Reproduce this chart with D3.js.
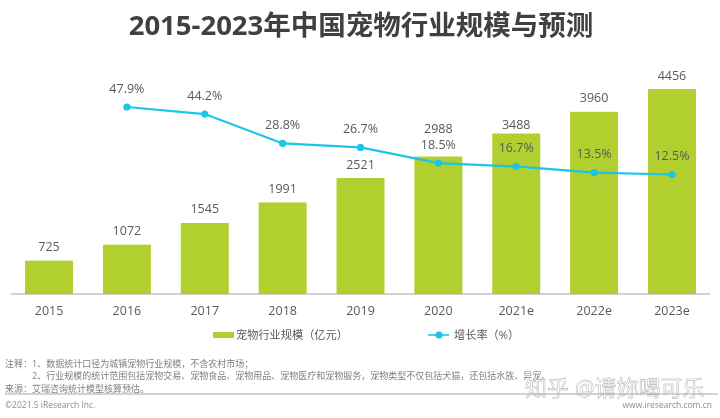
<!DOCTYPE html>
<html>
<head>
<meta charset="utf-8">
<script src="https://cdn.jsdelivr.net/npm/d3@7"></script>
<style>
    html, body { margin: 0; padding: 0; background: #fff; }
    svg { display: block; filter: blur(0.35px); }
    text { font-family: "Open Sans", "Noto Sans CJK SC", sans-serif; }
</style>
</head>
<body>
<div id="chart"></div>
<script>
var categories = ["2015", "2016", "2017", "2018", "2019", "2020", "2021e", "2022e", "2023e"];
var scaleValues = [725, 1072, 1545, 1991, 2521, 2988, 3488, 3960, 4456];
var rateCategories = ["2016", "2017", "2018", "2019", "2020", "2021e", "2022e", "2023e"];
var rateValues = [47.9, 44.2, 28.8, 26.7, 18.5, 16.7, 13.5, 12.5];
var noteLines = [
    "注释：1、数据统计口径为城镇宠物行业规模，不含农村市场；",
    "　　　2、行业规模的统计范围包括宠物交易、宠物食品、宠物用品、宠物医疗和宠物服务，宠物类型不仅包括犬猫，还包括水族、异宠。",
    "来源：艾瑞咨询统计模型核算预估。"
];

var width = 720, height = 418;
var baseY = 294;
var textColor = "#595959";
var barColor = "#b1d02f";
var lineColor = "#1cc4e8";

var svg = d3.select("#chart").append("svg")
    .attr("width", width)
    .attr("height", height);

var x = d3.scaleBand()
    .domain(categories)
    .range([10.1, 710.9])
    .paddingInner(0.384)
    .paddingOuter(0.192);

var y = d3.scaleLinear().domain([0, 4456]).range([baseY, 89]);
var yRate = d3.scaleLinear().domain([0, 50]).range([198.3, 103]);

// the bar label has to dodge the rate label on these two
function barLabelGap(d) {
    if (d === "2020") return 24;
    if (d === "2021e") return 5;
    return 9.5;
}

// title
svg.append("text")
    .attr("x", 361)
    .attr("y", 35)
    .attr("text-anchor", "middle")
    .attr("font-size", 27.5)
    .attr("font-weight", 700)
    .attr("fill", "#404040")
    .text("2015-2023年中国宠物行业规模与预测");

// bars
svg.selectAll(".bar")
    .data(categories)
    .enter().append("rect")
    .attr("class", "bar")
    .attr("x", function (d) { return x(d); })
    .attr("y", function (d, i) { return y(scaleValues[i]); })
    .attr("width", x.bandwidth())
    .attr("height", function (d, i) { return baseY - y(scaleValues[i]); })
    .attr("fill", barColor);

svg.selectAll(".bar-label")
    .data(categories)
    .enter().append("text")
    .attr("class", "bar-label")
    .attr("x", function (d) { return x(d) + x.bandwidth() / 2; })
    .attr("y", function (d, i) { return y(scaleValues[i]) - barLabelGap(d); })
    .attr("text-anchor", "middle")
    .attr("font-size", 12.5)
    .attr("fill", textColor)
    .text(function (d, i) { return scaleValues[i]; });

// x axis
var xAxis = svg.append("g")
    .attr("transform", "translate(0," + baseY + ")")
    .call(d3.axisBottom(x).tickSize(0).tickPadding(12));
xAxis.select(".domain").remove();
xAxis.selectAll("text")
    .attr("font-size", 12.5)
    .attr("fill", textColor)
    .style("font-family", '"Open Sans", sans-serif');
svg.append("line")
    .attr("x1", 11).attr("x2", 710)
    .attr("y1", baseY).attr("y2", baseY)
    .attr("stroke", "#a6a6a6")
    .attr("stroke-width", 1.2);

// rate line
var line = d3.line()
    .x(function (d) { return x(d) + x.bandwidth() / 2; })
    .y(function (d, i) { return yRate(rateValues[i]); });

svg.append("path")
    .datum(rateCategories)
    .attr("d", line)
    .attr("fill", "none")
    .attr("stroke", lineColor)
    .attr("stroke-width", 2.2);

svg.selectAll(".dot")
    .data(rateCategories)
    .enter().append("circle")
    .attr("class", "dot")
    .attr("cx", function (d) { return x(d) + x.bandwidth() / 2; })
    .attr("cy", function (d, i) { return yRate(rateValues[i]); })
    .attr("r", 3.6)
    .attr("fill", lineColor);

svg.selectAll(".rate-label")
    .data(rateCategories)
    .enter().append("text")
    .attr("class", "rate-label")
    .attr("x", function (d) { return x(d) + x.bandwidth() / 2; })
    .attr("y", function (d, i) { return yRate(rateValues[i]) - 14.5; })
    .attr("text-anchor", "middle")
    .attr("font-size", 12.5)
    .attr("fill", textColor)
    .text(function (d, i) { return rateValues[i].toFixed(1) + "%"; });

// legend
svg.append("rect")
    .attr("x", 213).attr("y", 332)
    .attr("width", 21).attr("height", 6)
    .attr("fill", barColor);
svg.append("text")
    .attr("x", 236).attr("y", 339)
    .attr("font-size", 11.2)
    .attr("fill", textColor)
    .text("宠物行业规模（亿元）");
svg.append("line")
    .attr("x1", 428).attr("x2", 449)
    .attr("y1", 335).attr("y2", 335)
    .attr("stroke", lineColor)
    .attr("stroke-width", 1.6);
svg.append("circle")
    .attr("cx", 439).attr("cy", 335)
    .attr("r", 3.6)
    .attr("fill", lineColor);
svg.append("text")
    .attr("x", 454).attr("y", 339)
    .attr("font-size", 11.2)
    .attr("fill", textColor)
    .text("增长率（%）");

// notes
svg.selectAll(".note")
    .data(noteLines)
    .enter().append("text")
    .attr("class", "note")
    .attr("x", 5)
    .attr("y", function (d, i) { return 366.5 + i * 12.5; })
    .attr("font-size", 9)
    .attr("fill", "#7f7f7f")
    .text(function (d) { return d; });

// watermark sits under the footer rule
svg.append("text")
    .attr("x", 525).attr("y", 395.5)
    .attr("font-size", 22)
    .attr("fill", "#ffffff")
    .attr("stroke", "#a0a0a0")
    .attr("stroke-width", 0.4)
    .text("知乎 @请妳喝可乐");

svg.append("line")
    .attr("x1", 5).attr("x2", 718)
    .attr("y1", 394).attr("y2", 394)
    .attr("stroke", "#a6a6a6")
    .attr("stroke-width", 1);

svg.append("text")
    .attr("x", 5).attr("y", 408)
    .attr("font-size", 8.5)
    .attr("fill", "#8c8c8c")
    .text("©2021.5 iResearch Inc.");
svg.append("text")
    .attr("x", 712).attr("y", 408)
    .attr("text-anchor", "end")
    .attr("font-size", 8.5)
    .attr("fill", "#8c8c8c")
    .text("www.iresearch.com.cn");
</script>
</body>
</html>
